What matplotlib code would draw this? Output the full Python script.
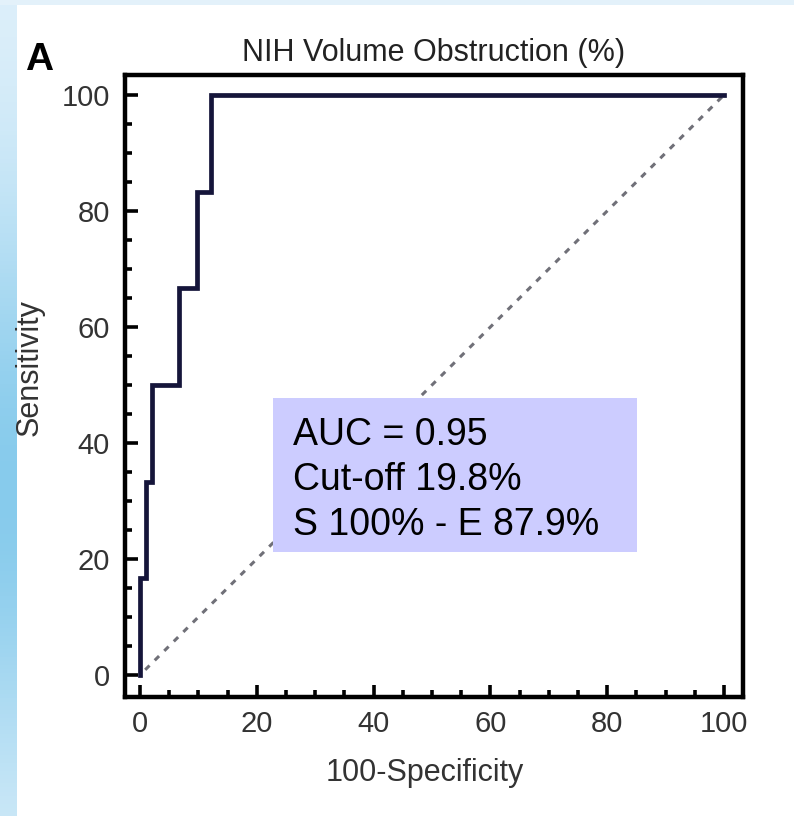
import matplotlib

matplotlib.use("Agg")

import matplotlib.pyplot as plt
import numpy as np
from matplotlib.patches import Rectangle

# ROC steps (100-specificity, sensitivity)
fpr = [0.0, 0.0, 1.0, 1.0, 2.1, 2.1, 6.6, 6.6, 9.8, 9.8, 12.1, 12.1, 100.0]
tpr = [0.0, 16.7, 16.7, 33.3, 33.3, 50.0, 50.0, 66.7, 66.7, 83.3, 83.3, 100.0, 100.0]
chance = [0, 100]

title = "NIH Volume Obstruction (%)"
panel = "A"
xlabel = "100-Specificity"
ylabel = "Sensitivity"
ticks = [0, 20, 40, 60, 80, 100]
box_lines = ["AUC = 0.95", "Cut-off 19.8%", "S 100% - E 87.9%"]

FONT = ["Liberation Sans", "DejaVu Sans"]
plt.rcParams["font.family"] = FONT

fig = plt.figure(figsize=(7.94, 8.16), dpi=100)
fig.patch.set_facecolor("white")

# light blue page edge on the left and top
bg = fig.add_axes([0, 0, 1, 1], zorder=-10)
bg.set_axis_off()
h = np.linspace(0, 1, 200)
tone = np.exp(-((h - 0.6) / 0.35) ** 2)
strip = np.zeros((200, 1, 3))
strip[:, 0, 0] = (225 - 90 * tone) / 255
strip[:, 0, 1] = (241 - 38 * tone) / 255
strip[:, 0, 2] = (251 - 15 * tone) / 255
bg.imshow(strip, extent=[0, 17, 0, 816], aspect="auto")
bg.add_patch(Rectangle((0, 811), 794, 5, color="#e3f1fa", lw=0))
bg.set_xlim(0, 794)
bg.set_ylim(0, 816)

ax = fig.add_axes([0.1574, 0.1458, 0.7783, 0.7623])
ax.set_facecolor("white")

ax.plot(chance, chance, color="#707078", lw=2.2, linestyle=(2, (2.0, 2.4)), zorder=2)
ax.plot(fpr, tpr, color="#15153a", lw=3.4, solid_joinstyle="miter", zorder=3)

ax.set_xlim(-2.57, 103.25)
ax.set_ylim(-3.8, 103.45)
ax.set_xticks(ticks)
ax.set_yticks(ticks)
ax.set_xticks(np.arange(0, 101, 5), minor=True)
ax.set_yticks(np.arange(0, 101, 5), minor=True)
ax.tick_params(which="both", direction="in", top=False, right=False, width=2.6, color="black")
ax.tick_params(which="major", length=9, labelsize=21, labelcolor="#333333")
ax.tick_params(which="minor", length=5)
ax.tick_params(axis="x", pad=9)
ax.tick_params(axis="y", pad=11)
for side in ax.spines.values():
    side.set_linewidth(3.2)
    side.set_color("black")

ax.set_title(title, fontsize=22, color="#222222", pad=10)
ax.text(0.485, -0.122, xlabel, transform=ax.transAxes, ha="center", va="center",
        fontsize=22, color="#333333")
ax.text(-0.154, 0.529, ylabel, transform=ax.transAxes, ha="center", va="center",
        rotation=90, fontsize=22, color="#333333")
fig.text(25 / 794, 1 - 70 / 816, panel, ha="left", va="baseline", fontsize=28,
         fontweight="bold", color="black")

# annotation box
ax.add_patch(Rectangle((22.8, 21.2), 62.3, 26.6, facecolor="#ccccff", edgecolor="none", zorder=4))
for i, line in enumerate(box_lines):
    ax.text(26.2, 39.7 - i * 7.76, line, ha="left", va="baseline", fontsize=27,
            color="black", zorder=5)

fig.savefig("out.png", dpi=100)
